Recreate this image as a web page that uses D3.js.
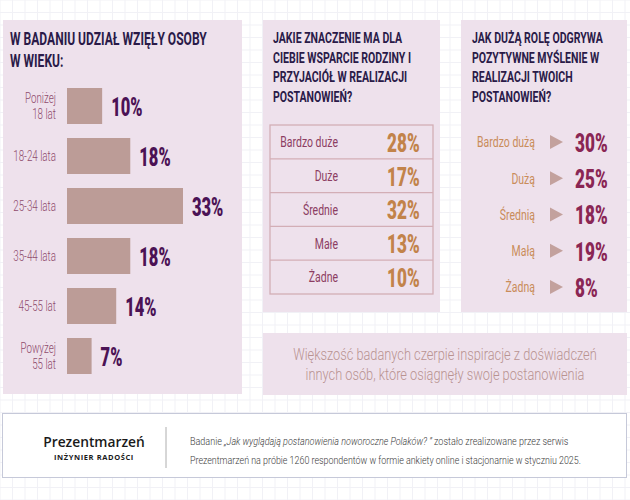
<!DOCTYPE html>
<html><head><meta charset="utf-8">
<script src="https://cdn.jsdelivr.net/npm/d3@7"></script>
<style>html,body{margin:0;padding:0;background:#fff;}svg{display:block;}</style>
</head><body>
<script>
// ---- data ----
const ageCategories = ["Poniżej\n18 lat", "18-24 lata", "25-34 lata", "35-44 lata", "45-55 lat", "Powyżej\n55 lat"];
const ageValues = [10, 18, 33, 18, 14, 7];
const supportCategories = ["Bardzo duże", "Duże", "Średnie", "Małe", "Żadne"];
const supportValues = [28, 17, 32, 13, 10];
const positiveCategories = ["Bardzo dużą", "Dużą", "Średnią", "Małą", "Żadną"];
const positiveValues = [30, 25, 18, 19, 8];
const titleAge = ["W BADANIU UDZIAŁ WZIĘŁY OSOBY", "W WIEKU:"];
const titleSupport = ["JAKIE ZNACZENIE MA DLA", "CIEBIE WSPARCIE RODZINY I", "PRZYJACIÓŁ W REALIZACJI", "POSTANOWIEŃ?"];
const titlePositive = ["JAK DUŻĄ ROLĘ ODGRYWA", "POZYTYWNE MYŚLENIE W", "REALIZACJI TWOICH", "POSTANOWIEŃ?"];
const quoteLines = ["Większość badanych czerpie inspiracje z doświadczeń", "innych osób, które osiągnęły swoje postanowienia"];

const W = 630, H = 500;
const svg = d3.select("body").append("svg").attr("width", W).attr("height", H);

// background grid
const grid = svg.append("g");
for (let x = 0; x <= W; x += 12.5) grid.append("line").attr("x1", x).attr("x2", x).attr("y1", 0).attr("y2", H).attr("stroke", "#f1f1f6").attr("stroke-width", 1);
for (let y = 0; y <= H; y += 12.5) grid.append("line").attr("y1", y).attr("y2", y).attr("x1", 0).attr("x2", W).attr("stroke", "#f1f1f6").attr("stroke-width", 1);

const PANEL = "#eee1ec";
function ctext(g, x, y, str, o) {
  return g.append("text")
    .attr("transform", `translate(${x},${y}) scale(${o.sx || 1},1)`)
    .attr("text-anchor", o.anchor || "start")
    .attr("dominant-baseline", o.base || "auto")
    .attr("font-family", o.family || "Roboto, 'DejaVu Sans', sans-serif")
    .attr("font-size", o.size)
    .attr("font-weight", o.weight || 400)
    .attr("fill", o.fill)
    .text(str);
}

// panels
svg.append("rect").attr("x", 3).attr("y", 20).attr("width", 239).attr("height", 374).attr("fill", PANEL);
svg.append("rect").attr("x", 263).attr("y", 20).attr("width", 177).attr("height", 292).attr("fill", PANEL);
svg.append("rect").attr("x", 461).attr("y", 20).attr("width", 166).attr("height", 292).attr("fill", PANEL);
svg.append("rect").attr("x", 263).attr("y", 333).attr("width", 364).attr("height", 62).attr("fill", PANEL);

const TITLE = "#2a1a48";
titleAge.forEach((t, i) => ctext(svg, 10, 45 + i * 22, t, {size: 18, weight: 700, sx: 0.67, fill: TITLE}));
titleSupport.forEach((t, i) => ctext(svg, 273, 43 + i * 19.7, t, {size: 15.5, weight: 700, sx: 0.68, fill: TITLE}));
titlePositive.forEach((t, i) => ctext(svg, 472, 43 + i * 19.7, t, {size: 15.5, weight: 700, sx: 0.68, fill: TITLE}));

// ---- left: age bars ----
const yAge = d3.scaleBand().domain(ageCategories).range([81, 381]).paddingInner(0.28).paddingOuter(0.14);
const xAge = d3.scaleLinear().domain([0, 33]).range([0, 116]);
const gAge = svg.append("g");
ageCategories.forEach((c, i) => {
  const y = yAge(c), h = yAge.bandwidth(), v = ageValues[i];
  gAge.append("rect").attr("x", 67).attr("y", y).attr("width", xAge(v)).attr("height", h)
    .attr("fill", "#bc9c97");
  const lines = c.split("\n");
  const cy = y + h / 2;
  lines.forEach((ln, j) => {
    const off = (j - (lines.length - 1) / 2) * 16;
    ctext(gAge, 56, cy + off, ln, {size: 14, weight: 300, sx: 0.7, anchor: "end", base: "central", fill: "#8e4c6c"});
  });
  ctext(gAge, 67 + xAge(v) + 9, cy + 1, v + "%", {size: 25, weight: 900, sx: 0.66, base: "central", fill: "#4b1255"});
});

// ---- middle: support table ----
const ySup = d3.scaleBand().domain(supportCategories).range([125, 294]);
const gSup = svg.append("g");
gSup.append("rect").attr("x", 270).attr("y", 125).attr("width", 163).attr("height", 169)
  .attr("fill", "none").attr("stroke", "#d3aeb6").attr("stroke-width", 1.3);
supportCategories.forEach((c, i) => {
  const y = ySup(c), h = ySup.bandwidth(), cy = y + h / 2;
  if (i > 0) gSup.append("line").attr("x1", 270).attr("x2", 433).attr("y1", y).attr("y2", y).attr("stroke", "#d3aeb6").attr("stroke-width", 1.3);
  ctext(gSup, 338, cy, c, {size: 15, weight: 400, sx: 0.7, anchor: "end", base: "central", fill: "#8c3d62"});
  ctext(gSup, 387, cy + 1, supportValues[i] + "%", {size: 26, weight: 900, sx: 0.66, base: "central", fill: "#c2834a"});
});

// ---- right: positive thinking list ----
const yPos = d3.scaleBand().domain(positiveCategories).range([124, 305]);
const gPos = svg.append("g");
positiveCategories.forEach((c, i) => {
  const cy = yPos(c) + yPos.bandwidth() / 2;
  ctext(gPos, 535, cy, c, {size: 15, weight: 400, sx: 0.7, anchor: "end", base: "central", fill: "#c98c5a"});
  gPos.append("path").attr("d", `M550,${cy - 7}L563,${cy}L550,${cy + 7}Z`).attr("fill", "#c3a19d");
  ctext(gPos, 575, cy + 1, positiveValues[i] + "%", {size: 26, weight: 900, sx: 0.66, base: "central", fill: "#8a2654"});
});

// ---- quote ----
quoteLines.forEach((t, i) => ctext(svg, 445, 360 + i * 20, t, {size: 16, weight: 300, sx: 0.8, anchor: "middle", fill: "#b99391"}));

// ---- footer ----
svg.append("rect").attr("x", 2.5).attr("y", 413.5).attr("width", 624).attr("height", 64)
  .attr("fill", "#fff").attr("stroke", "#c6c9d9").attr("stroke-width", 1);
svg.append("line").attr("x1", 166).attr("x2", 166).attr("y1", 427).attr("y2", 468).attr("stroke", "#999").attr("stroke-width", 0.8);
ctext(svg, 94, 447, "Prezentmarzeń", {size: 15, weight: 600, sx: 0.92, anchor: "middle", family: "'Open Sans', sans-serif", fill: "#1a1a1a"});
ctext(svg, 94, 460, "INŻYNIER RADOŚCI", {size: 7.5, weight: 700, sx: 1, anchor: "middle", family: "'Open Sans', sans-serif", fill: "#1a1a1a"})
  .attr("letter-spacing", 0.6);
const ft1 = svg.append("text").attr("transform", "translate(190,445) scale(0.82,1)")
  .attr("font-family", "Roboto, sans-serif").attr("font-size", 11).attr("font-weight", 300).attr("fill", "#3a3a3a");
ft1.append("tspan").text("Badanie ");
ft1.append("tspan").attr("font-style", "italic").text("„Jak wyglądają postanowienia noworoczne Polaków? ”");
ft1.append("tspan").text(" zostało zrealizowane przez serwis");
ctext(svg, 190, 464, "Prezentmarzeń na próbie 1260 respondentów w formie ankiety online i stacjonarnie w styczniu 2025.", {size: 11, weight: 300, sx: 0.81, fill: "#3a3a3a"});
</script>
</body></html>
